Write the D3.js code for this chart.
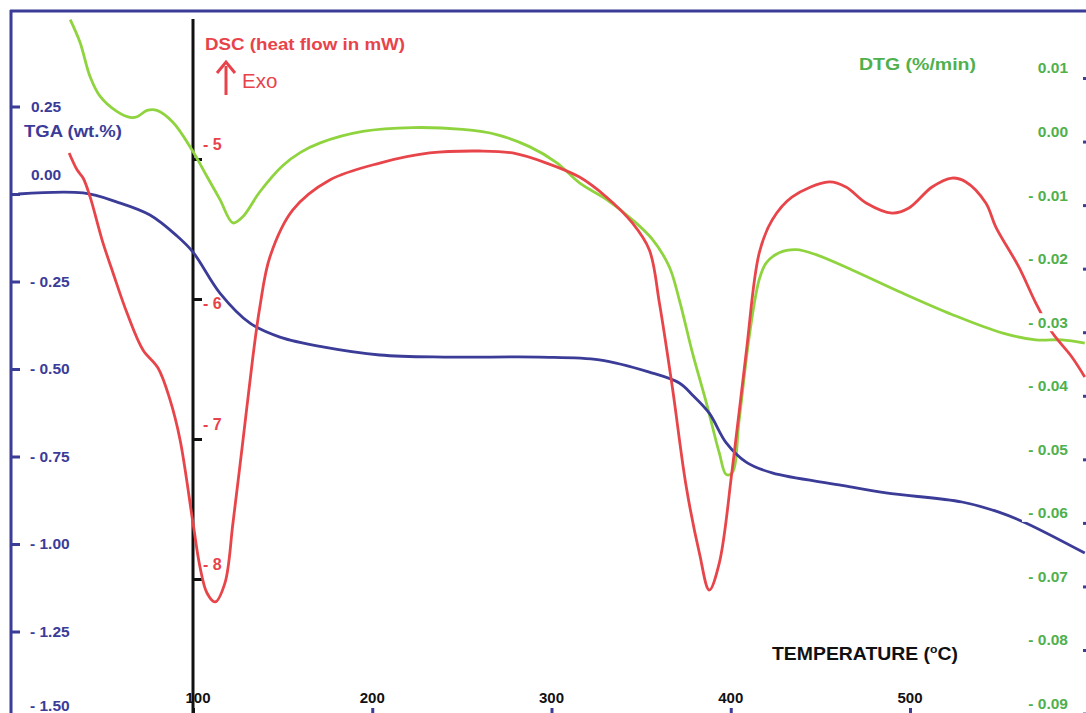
<!DOCTYPE html>
<html><head><meta charset="utf-8">
<script src="https://cdn.jsdelivr.net/npm/d3@7"></script>
<style>html,body{margin:0;padding:0;background:#fff;}svg{display:block;font-family:Arial,"Liberation Sans",sans-serif;}</style>
</head><body>
<svg id="c" width="1086" height="713"></svg>
<script>
// ---- data (temperature in °C) ----
const tgaT = [2.5,38.7,57.7,76,91.1,100,115,131.8,148.5,172.4,204.2,241.5,293.3,326.7,354.6,371.3,378.6,388,397.5,408.6,423.1,460.4,486.6,529,549.6,564.6,597.5];
const tgaV = [0,0.003,-0.023,-0.06,-0.12,-0.166,-0.283,-0.369,-0.409,-0.437,-0.46,-0.466,-0.466,-0.474,-0.509,-0.54,-0.574,-0.626,-0.711,-0.766,-0.797,-0.831,-0.854,-0.88,-0.909,-0.94,-1.026];

const dscT = [30.9,35.4,38.7,42.6,49.3,55.4,63.2,72.1,80.5,87.2,92.8,100,103.9,107.8,112.3,117.8,122.3,127.9,133.4,137.3,142.9,155.7,176.3,204.2,232,259.9,278.3,297.2,315.6,330.6,345.1,354.6,360.2,367.4,375.2,382.5,388,393.6,400.8,408.6,415.9,423.1,434.3,454.9,464.3,475.5,490,499.4,512.3,523.4,531.2,542.3,547.9,560.7,570.2,579.1,590.3,597.5];
const dscV = [-4.957,-5.079,-5.136,-5.271,-5.579,-5.814,-6.1,-6.364,-6.493,-6.721,-7.007,-7.6,-7.914,-8.1,-8.164,-8.029,-7.6,-7.007,-6.414,-6.057,-5.7,-5.364,-5.15,-5.029,-4.957,-4.943,-4.957,-5.029,-5.129,-5.271,-5.457,-5.65,-6.029,-6.629,-7.343,-7.814,-8.079,-7.886,-7.221,-6.386,-5.671,-5.436,-5.271,-5.164,-5.2,-5.314,-5.386,-5.35,-5.2,-5.136,-5.164,-5.314,-5.486,-5.771,-6.029,-6.236,-6.414,-6.557];

const dtgT = [31.5,37,42.6,48.2,57.7,64.9,68.8,74.4,79.9,88.9,99.4,107.8,115,122.3,127.9,137.3,150,160,171,194.7,222.6,250.4,269.4,287.7,302.8,315.6,330.6,345.1,356.3,365.7,371.3,378.6,386.4,393.6,397.5,400.8,404.7,410.3,415.9,419.8,427,436.5,447.6,467.7,495.5,523.4,551.3,570.2,584.7,597.5];
const dtgV = [0.0192,0.0156,0.0102,0.0071,0.0047,0.0038,0.0039,0.0049,0.0049,0.003,-0.0013,-0.0055,-0.0091,-0.0128,-0.0118,-0.0079,-0.0038,-0.0017,-0.0002,0.0016,0.0022,0.0019,0.0011,-0.0008,-0.0033,-0.0065,-0.0091,-0.0123,-0.0154,-0.0197,-0.0249,-0.0332,-0.0411,-0.049,-0.0524,-0.0521,-0.0438,-0.0307,-0.0217,-0.0191,-0.0175,-0.017,-0.0178,-0.0202,-0.0238,-0.0272,-0.0301,-0.0312,-0.0312,-0.0317];

const xTicks = [100,200,300,400,500];
const tgaTicks = [0.25,0,-0.25,-0.5,-0.75,-1,-1.25,-1.5];
const tgaLabels = ["0.25","0.00","- 0.25","- 0.50","- 0.75","- 1.00","- 1.25","- 1.50"];
const dscTicks = [-5,-6,-7,-8];
const dscLabels = ["- 5","- 6","- 7","- 8"];
const dtgTicks = [0.01,0,-0.01,-0.02,-0.03,-0.04,-0.05,-0.06,-0.07,-0.08,-0.09];
const dtgLabels = ["0.01","0.00","- 0.01","- 0.02","- 0.03","- 0.04","- 0.05","- 0.06","- 0.07","- 0.08","- 0.09"];

// ---- colours ----
const BLUE = "#3b3b98", RED = "#e8454a", GREEN = "#8fd43f", GREENTXT = "#4fb04c", REDTXT = "#e8434a";

const svg = d3.select("#c");
const x = d3.scaleLinear().domain([100,500]).range([193,910]);
const yT = d3.scaleLinear().domain([0,-1.25]).range([194,631.5]);
const yD = d3.scaleLinear().domain([-5,-8]).range([159,579]);
const yG = d3.scaleLinear().domain([0.01,-0.08]).range([78,650]);

// frame
svg.append("line").attr("x1",11).attr("x2",11).attr("y1",10).attr("y2",713).attr("stroke",BLUE).attr("stroke-width",3);
svg.append("line").attr("x1",10).attr("x2",1086).attr("y1",11).attr("y2",11).attr("stroke",BLUE).attr("stroke-width",3);

// left TGA axis ticks
const gL = svg.append("g").attr("transform","translate(11,0)")
  .call(d3.axisRight(yT).tickValues(tgaTicks).tickSize(9).tickFormat(""));
gL.select(".domain").remove();
gL.selectAll("line").attr("stroke",BLUE).attr("stroke-width",3);
svg.selectAll(".tgaLab").data(tgaTicks).enter().append("text")
  .attr("x",(d,i)=> i<2 ? 31 : 30)
  .attr("y",(d,i)=> i===1 ? yT(d)-19 : (i===7 ? yT(d)-13 : yT(d)))
  .attr("dy","0.35em").attr("fill",BLUE).attr("font-weight","bold").attr("font-size",15.5)
  .text((d,i)=>tgaLabels[i]);

// DSC axis (black vertical)
svg.append("line").attr("x1",x(100)).attr("x2",x(100)).attr("y1",19).attr("y2",713).attr("stroke","#111").attr("stroke-width",3);
const gD = svg.append("g").attr("transform",`translate(${x(100)},0)`)
  .call(d3.axisRight(yD).tickValues(dscTicks).tickSize(9).tickFormat(""));
gD.select(".domain").remove();
gD.selectAll("line").attr("stroke","#111").attr("stroke-width",3);
svg.selectAll(".dscLab").data(dscTicks).enter().append("text")
  .attr("x",x(100)+10)
  .attr("y",(d,i)=> i===1 ? yD(d)+4 : yD(d)-15)
  .attr("dy","0.35em").attr("fill",REDTXT).attr("font-weight","bold").attr("font-size",16)
  .text((d,i)=>dscLabels[i]);

// X ticks
const gX = svg.append("g").attr("transform","translate(0,713)")
  .call(d3.axisTop(x).tickValues(xTicks).tickSize(5).tickFormat(""));
gX.select(".domain").remove();
gX.selectAll("line").attr("stroke",(d)=> d===100 ? "#111" : BLUE).attr("stroke-width",3);
svg.selectAll(".xLab").data(xTicks).enter().append("text")
  .attr("x",d=> d===100 ? x(d)+5 : x(d)).attr("y",703).attr("text-anchor","middle")
  .attr("fill","#111").attr("font-weight","bold").attr("font-size",15)
  .text(d=>d);

// curves
const mk = (T,V,ys)=> d3.line().x((d,i)=>x(T[i])).y((d,i)=>ys(V[i])).curve(d3.curveCatmullRom.alpha(0.5))(T);
svg.append("path").attr("d",mk(dtgT,dtgV,yG)).attr("fill","none").attr("stroke",GREEN).attr("stroke-width",2.8);
svg.append("path").attr("d",mk(tgaT,tgaV,yT)).attr("fill","none").attr("stroke",BLUE).attr("stroke-width",2.8);
svg.append("path").attr("d",mk(dscT,dscV,yD)).attr("fill","none").attr("stroke",RED).attr("stroke-width",2.8);

// right DTG axis ticks and labels (with white background)
const gR = svg.append("g").attr("transform","translate(1086,0)")
  .call(d3.axisLeft(yG).tickValues(dtgTicks).tickSize(3).tickFormat(""));
gR.select(".domain").remove();
gR.selectAll("line").attr("stroke",BLUE).attr("stroke-width",3);
const rl = svg.selectAll(".dtgLab").data(dtgTicks).enter().append("g");
rl.append("rect").attr("x",1022).attr("y",d=>yG(d)-19).attr("width",48).attr("height",18).attr("fill","#fff");
rl.append("text").attr("x",1068).attr("y",d=>yG(d)-10).attr("dy","0.35em").attr("text-anchor","end")
  .attr("fill",GREENTXT).attr("font-weight","bold").attr("font-size",15.5)
  .text((d,i)=>dtgLabels[i]);

// titles
svg.append("text").attr("x",205).attr("y",50).attr("fill",REDTXT).attr("font-weight","bold").attr("font-size",17)
  .attr("textLength",200).attr("lengthAdjust","spacingAndGlyphs").text("DSC (heat flow in mW)");
svg.append("line").attr("x1",226).attr("x2",226).attr("y1",95).attr("y2",66).attr("stroke",REDTXT).attr("stroke-width",3);
svg.append("path").attr("d","M217,73 L226,62 L235,73").attr("fill","none").attr("stroke",REDTXT).attr("stroke-width",3);
svg.append("text").attr("x",242).attr("y",88).attr("fill",REDTXT).attr("font-size",20.5).text("Exo");
svg.append("text").attr("x",24).attr("y",137).attr("fill",BLUE).attr("font-weight","bold").attr("font-size",17)
  .attr("textLength",98).attr("lengthAdjust","spacingAndGlyphs").text("TGA (wt.%)");
svg.append("text").attr("x",859).attr("y",70).attr("fill",GREENTXT).attr("font-weight","bold").attr("font-size",17)
  .attr("textLength",117).attr("lengthAdjust","spacingAndGlyphs").text("DTG  (%/min)");
const tt = svg.append("text").attr("x",772).attr("y",660).attr("fill","#111").attr("font-weight","bold").attr("font-size",17.5)
  .attr("textLength",186).attr("lengthAdjust","spacingAndGlyphs");
tt.append("tspan").text("TEMPERATURE (");
tt.append("tspan").attr("dy",-7).attr("font-size",11).text("o");
tt.append("tspan").attr("dy",7).text("C)");
</script>
</body></html>
